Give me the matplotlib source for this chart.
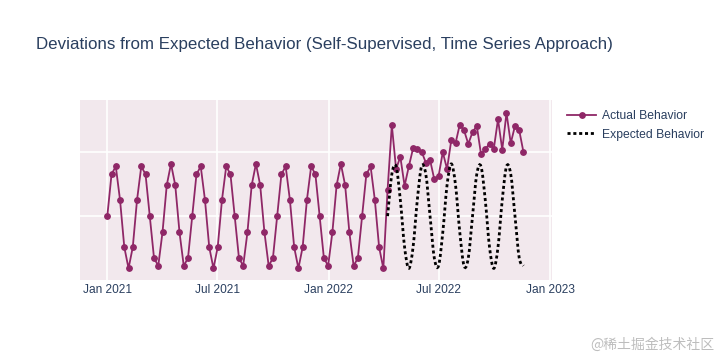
import numpy as np
import pandas as pd
import matplotlib
matplotlib.use('Agg')
import matplotlib.pyplot as plt
from matplotlib.path import Path
from matplotlib.patches import PathPatch
from matplotlib.lines import Line2D
import matplotlib.dates as mdates

plt.rcParams['font.family'] = ['Liberation Sans', 'DejaVu Sans']

# data (weekly samples)
start_date = '2021-01-01'
actual = [
    0.00, 0.65, 0.77, 0.25, -0.48, -0.81, -0.48, 0.25, 0.77, 0.65,
    0.00, -0.65, -0.77, -0.25, 0.48, 0.81, 0.48, -0.25, -0.77, -0.65,
    0.00, 0.65, 0.77, 0.25, -0.48, -0.81, -0.48, 0.25, 0.77, 0.65,
    0.00, -0.65, -0.77, -0.25, 0.48, 0.81, 0.48, -0.25, -0.77, -0.65,
    0.00, 0.65, 0.77, 0.25, -0.48, -0.81, -0.48, 0.25, 0.77, 0.65,
    0.00, -0.65, -0.77, -0.25, 0.48, 0.81, 0.48, -0.25, -0.77, -0.65,
    0.00, 0.65, 0.77, 0.25, -0.48, -0.81,
    0.41, 1.41, 0.73, 0.92, 0.47, 0.77, 1.05, 1.04, 1.00, 0.83,
    0.87, 0.57, 0.62, 0.99, 0.73, 1.18, 1.13, 1.42, 1.33, 1.12,
    1.30, 1.40, 0.96, 1.04, 1.12, 1.04, 1.50, 1.03, 1.60, 1.13,
    1.40, 1.33, 0.99,
]
expected_start = 66
expected = [
    0.00, 0.65, 0.77, 0.25, -0.48, -0.81, -0.48, 0.25, 0.77, 0.65,
    0.00, -0.65, -0.77, -0.25, 0.48, 0.81, 0.48, -0.25, -0.77, -0.65,
    0.00, 0.65, 0.77, 0.25, -0.48, -0.81, -0.48, 0.25, 0.77, 0.65,
    0.00, -0.65, -0.77,
]
x_ticks = ['2021-01-01', '2021-07-01', '2022-01-01', '2022-07-01', '2023-01-01']
x_tick_labels = ['Jan 2021', 'Jul 2021', 'Jan 2022', 'Jul 2022', 'Jan 2023']

title = 'Deviations from Expected Behavior (Self-Supervised, Time Series Approach)'
text_color = '#2a3f5f'
bg_color = '#f2e8ed'
line_color = '#8f2767'

dates = pd.date_range(start_date, periods=len(actual), freq='7D')
exp_dates = dates[expected_start:expected_start + len(expected)]

fig = plt.figure(figsize=(7.2, 3.6), dpi=100)
ax = fig.add_axes([80 / 720, 80 / 360, 472 / 720, 180 / 360])
ax.set_facecolor(bg_color)
for s in ax.spines.values():
    s.set_visible(False)

ax.plot(dates, actual, color=line_color, lw=1.3, marker='o', ms=3.9,
        zorder=3, label='Actual Behavior')

# smooth (spline-like) expected curve: catmull-rom -> cubic bezier segments
ex = mdates.date2num(exp_dates.to_pydatetime())
ey = np.asarray(expected, dtype=float)
pts = np.column_stack([ex, ey])
pad = np.vstack([pts[0], pts, pts[-1]])
verts = [tuple(pts[0])]
codes = [Path.MOVETO]
for i in range(1, len(pad) - 2):
    p0, p1, p2, p3 = pad[i - 1], pad[i], pad[i + 1], pad[i + 2]
    c1 = p1 + (p2 - p0) / 6.0
    c2 = p2 - (p3 - p1) / 6.0
    verts += [tuple(c1), tuple(c2), tuple(p2)]
    codes += [Path.CURVE4] * 3
patch = PathPatch(Path(verts, codes), fill=False, edgecolor='black',
                  lw=2.0, linestyle=(0, (1.1, 1.0)), zorder=4)
ax.add_patch(patch)

ax.set_xlim(pd.Timestamp('2020-11-17'), pd.Timestamp('2023-01-04'))
ax.set_ylim(-0.99, 1.8)
ax.set_xticks(pd.to_datetime(x_ticks))
ax.set_xticklabels(x_tick_labels, color=text_color, fontsize=8.6)
ax.set_yticks([0, 1])
ax.set_yticklabels([])
ax.tick_params(length=0, pad=3)
ax.grid(True, color='white', lw=1.2)
ax.set_axisbelow(True)

handles = [
    Line2D([], [], color=line_color, lw=1.3, marker='o', ms=3.9),
    Line2D([], [], color='black', lw=2.0, linestyle=(0, (1.1, 1.0))),
]
fig.legend(handles, ['Actual Behavior', 'Expected Behavior'],
           loc='upper left', bbox_to_anchor=(567 / 720, 1 - 110 / 360),
           frameon=False, fontsize=8.7, labelcolor=text_color,
           handlelength=2.4, handletextpad=0.5, labelspacing=0.55,
           borderaxespad=0, borderpad=0)

fig.text(36 / 720, 1 - 45 / 360, title, fontsize=12.15, color=text_color,
         va='center', ha='left')
fig.text(714 / 720, 1 - 345 / 360, '@稀土掘金技术社区', fontsize=10,
         color='#bdbdbd', va='center', ha='right',
         family=['Noto Sans CJK SC', 'DejaVu Sans'])

fig.savefig('out.png', dpi=100, facecolor='white')
